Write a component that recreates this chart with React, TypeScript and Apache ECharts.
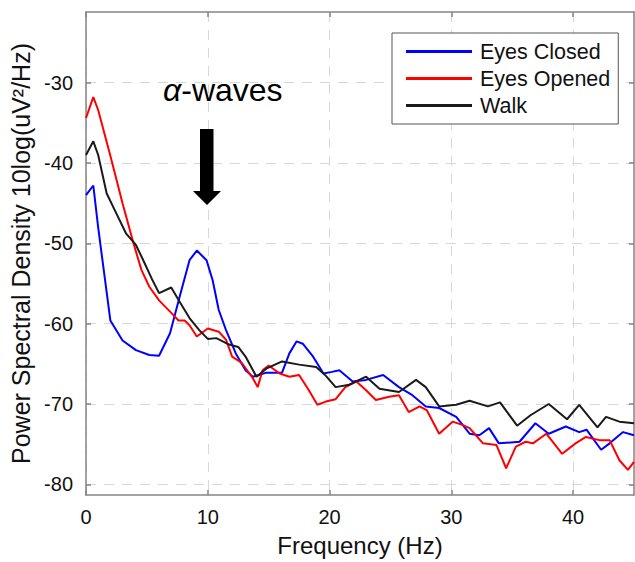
import React, { useEffect, useRef } from "react";
import * as echarts from "echarts";

const FONT = "'Liberation Sans', Arial, sans-serif";

const xTicks = [0, 10, 20, 30, 40];
const yTicks = [-80, -70, -60, -50, -40, -30];

const closedFreq = [0, 0.6, 1.0, 1.3, 2.0, 3.0, 4.1, 5.2, 6.0, 6.9,
  7.7, 8.5, 9.1, 9.9, 10.4, 10.9, 11.5, 12.3, 13.1, 13.7,
  14.2, 14.8, 16.1, 16.7, 17.3, 17.8, 18.6, 19.5, 20.2, 20.8,
  21.9, 23.0, 24.4, 25.7, 26.8, 27.9, 29.0, 30.4, 31.5, 32.3,
  33.1, 33.9, 35.6, 36.9, 38.0, 39.4, 40.5, 41.1, 42.3, 43.0,
  44.1, 45];
const closedPsd = [-44.0, -42.8, -48.0, -51.5, -59.6, -62.1, -63.3, -63.9, -64.0, -61.2,
  -56.6, -52.1, -50.9, -52.1, -54.6, -58.3, -60.8, -63.7, -65.8, -66.6,
  -66.4, -66.1, -66.1, -63.7, -62.2, -62.5, -64.0, -66.2, -66.0, -65.8,
  -67.2, -67.0, -66.4, -67.9, -68.9, -70.3, -70.5, -71.6, -73.7, -73.9,
  -73.0, -74.9, -74.7, -72.4, -73.7, -72.8, -73.5, -73.2, -75.7, -74.9,
  -73.5, -73.9];

const openedFreq = [0, 0.6, 1.0, 2.0, 3.0, 3.9, 4.55, 5.2, 6.0, 6.9,
  7.6, 8.1, 8.5, 9.1, 10.0, 10.9, 11.5, 12.0, 12.8, 13.7,
  14.1, 14.5, 15.0, 15.9, 16.7, 17.5, 18.3, 19.0, 19.7, 20.5,
  21.3, 22.2, 23.0, 23.8, 24.9, 25.7, 26.5, 27.4, 28.0, 29.0,
  30.1, 30.9, 31.5, 32.6, 33.7, 34.5, 35.3, 36.1, 36.7, 37.8,
  39.1, 40.2, 41.05, 42.15, 43.0, 43.8, 44.5, 45];
const openedPsd = [-34.4, -31.8, -33.4, -39.1, -45.0, -50.0, -53.3, -55.4, -57.1, -58.5,
  -59.6, -59.6, -60.2, -61.6, -60.6, -61.0, -62.0, -64.1, -64.9, -66.8,
  -67.9, -65.8, -65.2, -66.2, -66.6, -66.4, -68.3, -70.1, -69.7, -69.4,
  -67.9, -67.2, -68.3, -69.5, -69.1, -68.9, -71.0, -70.3, -70.8, -73.7,
  -72.2, -72.6, -73.0, -74.9, -75.1, -78.0, -75.3, -74.7, -74.9, -73.7,
  -76.2, -74.9, -74.1, -74.5, -74.5, -77.0, -78.2, -77.2];

const walkFreq = [0, 0.6, 1.0, 1.7, 2.5, 3.3, 4.1, 4.7, 5.4, 6.0,
  7.0, 7.7, 8.5, 9.3, 10.0, 10.7, 11.75, 12.5, 13.1, 14.0,
  14.8, 16.1, 17.5, 18.9, 19.7, 20.5, 21.6, 23.0, 24.1, 25.7,
  27.1, 27.9, 29.0, 30.4, 31.5, 33.0, 34.0, 35.4, 36.5, 38.0,
  39.5, 40.5, 42.0, 42.7, 43.8, 45];
const walkPsd = [-39.0, -37.3, -39.0, -43.8, -46.3, -48.8, -50.2, -52.1, -54.4, -56.2,
  -55.5, -57.3, -59.3, -60.8, -61.9, -61.8, -62.6, -62.9, -64.1, -66.6,
  -65.6, -64.7, -65.1, -65.4, -66.5, -67.9, -67.6, -66.6, -68.1, -68.5,
  -67.0, -67.9, -70.3, -70.1, -69.6, -70.3, -69.8, -72.7, -71.4, -70.0,
  -71.9, -70.1, -72.9, -71.6, -72.2, -72.4];

const seriesNames = ["Eyes Closed", "Eyes Opened", "Walk"];
const seriesColors = ["#0000ff", "#ff0000", "#1a1a1a"];

const zip = (f: number[], v: number[]) => f.map((x, i) => [x, v[i]]);

export default function App() {
  const ref = useRef<HTMLDivElement>(null);
  useEffect(() => {
    if (!ref.current) return;
    const chart = echarts.init(ref.current, null, { renderer: "svg" });
    const axisLineStyle = { color: "#858585", width: 1.5 };
    const splitLineStyle = { color: "#d8d8d8", width: 1, type: [10, 8] as any };
    const datasets = [zip(closedFreq, closedPsd), zip(openedFreq, openedPsd), zip(walkFreq, walkPsd)];
    chart.setOption({
      animation: false,
      backgroundColor: "#ffffff",
      textStyle: { fontFamily: FONT },
      grid: { left: 86, right: 1, top: 12, bottom: 67, show: false },
      legend: {
        orient: "vertical",
        left: 392,
        top: 33,
        padding: [5, 8, 5, 14],
        itemWidth: 66,
        itemHeight: 3,
        itemGap: 0,
        icon: "rect",
        borderColor: "#555555",
        borderWidth: 1,
        backgroundColor: "#ffffff",
        textStyle: { fontFamily: FONT, fontSize: 21.5, color: "#111", lineHeight: 27, padding: [0, 0, 0, 3] },
        data: seriesNames,
      },
      xAxis: [
        {
          type: "value",
          min: 0,
          max: 45,
          name: "Frequency (Hz)",
          nameLocation: "middle",
          nameGap: 38,
          nameTextStyle: { fontFamily: FONT, fontSize: 24, color: "#111" },
          axisLine: { show: true, lineStyle: axisLineStyle },
          axisTick: { show: true, inside: true, length: 5, customValues: xTicks, lineStyle: axisLineStyle },
          axisLabel: { fontFamily: FONT, fontSize: 20, color: "#111", margin: 12, customValues: xTicks },
          splitLine: { show: true, lineStyle: splitLineStyle },
        },
        {
          type: "value",
          position: "top",
          min: 0,
          max: 45,
          axisLine: { show: true, onZero: false, lineStyle: axisLineStyle },
          axisTick: { show: true, inside: true, length: 5, customValues: xTicks, lineStyle: axisLineStyle },
          axisLabel: { show: false },
          splitLine: { show: false },
        },
      ],
      yAxis: [
        {
          type: "value",
          min: -81.33,
          max: -21.2,
          name: "Power Spectral Density 10log(uV²/Hz)",
          nameLocation: "middle",
          nameRotate: 90,
          nameGap: 45,
          nameTextStyle: { fontFamily: FONT, fontSize: 25, color: "#111" },
          axisLine: { show: true, onZero: false, lineStyle: axisLineStyle },
          axisTick: { show: true, inside: true, length: 5, customValues: yTicks, lineStyle: axisLineStyle },
          axisLabel: { fontFamily: FONT, fontSize: 20, color: "#111", margin: 13, customValues: yTicks },
          splitLine: { show: true, lineStyle: splitLineStyle },
        },
        {
          type: "value",
          position: "right",
          min: -81.33,
          max: -21.2,
          axisLine: { show: true, onZero: false, lineStyle: axisLineStyle },
          axisTick: { show: true, inside: true, length: 5, customValues: yTicks, lineStyle: axisLineStyle },
          axisLabel: { show: false },
          splitLine: { show: false },
        },
      ],
      graphic: [
        {
          type: "text",
          left: 163,
          top: 74,
          style: {
            text: "{a|α}-waves",
            fontFamily: FONT,
            fontSize: 32,
            fill: "#000",
            rich: { a: { fontStyle: "italic", fontFamily: FONT, fontSize: 32, fill: "#000" } },
          },
          z: 10,
        },
        {
          type: "polygon",
          shape: {
            points: [[200, 129], [213.5, 129], [213.5, 191], [221, 191], [207, 205], [193, 191], [200, 191]],
          },
          style: { fill: "#000" },
          z: 10,
        },
      ],
      series: seriesNames.map((name, i) => ({
        name,
        type: "line",
        data: datasets[i],
        showSymbol: false,
        symbol: "none",
        xAxisIndex: 0,
        yAxisIndex: 0,
        lineStyle: { color: seriesColors[i], width: 2 },
        itemStyle: { color: seriesColors[i] },
        color: seriesColors[i],
      })),
    });
    return () => chart.dispose();
  }, []);
  return (
    <div
      ref={ref}
      style={{ position: "fixed", left: 0, top: 0, width: 635, height: 562, background: "#fff" }}
    />
  );
}
